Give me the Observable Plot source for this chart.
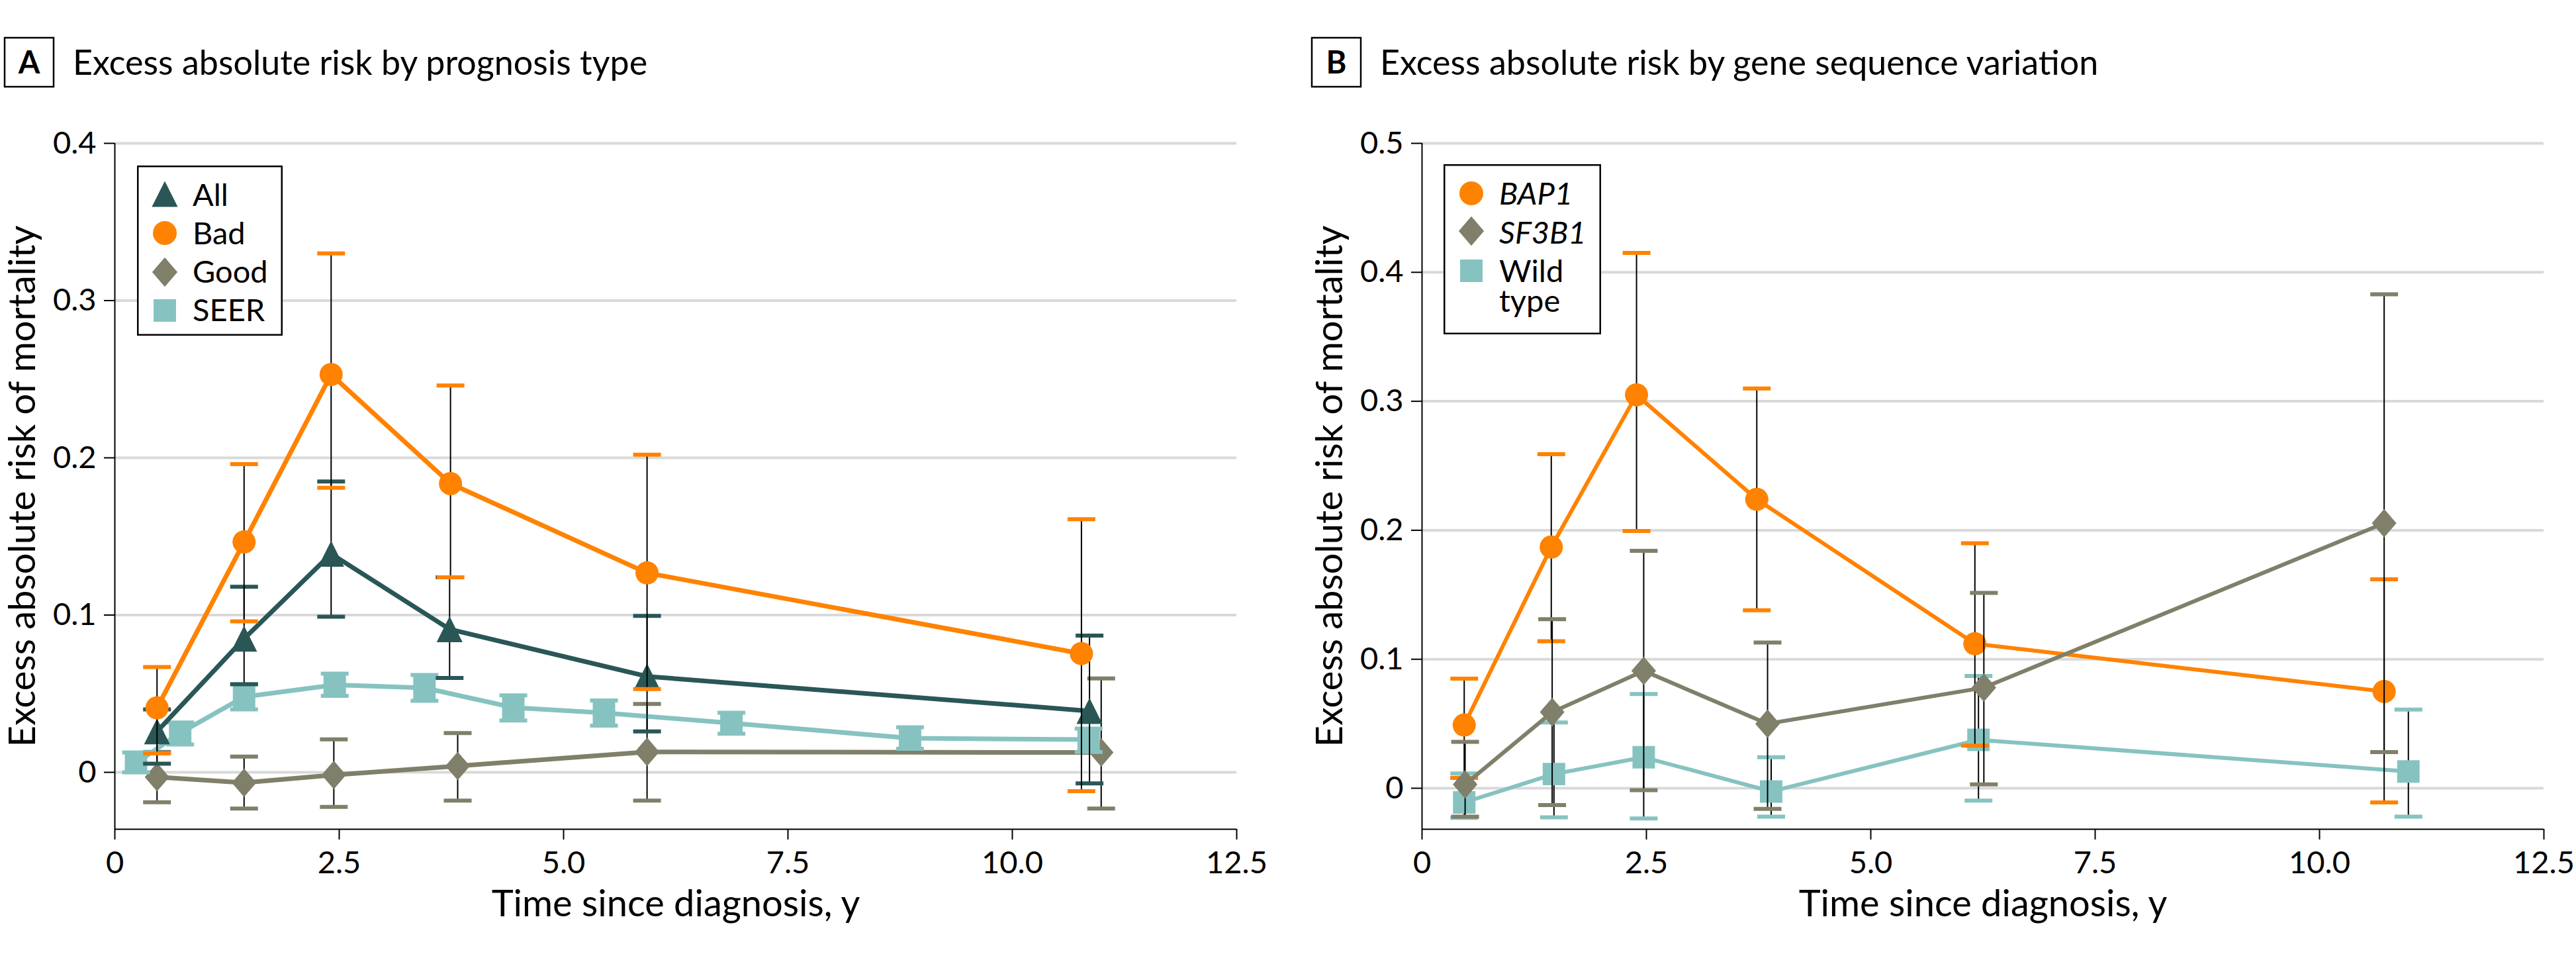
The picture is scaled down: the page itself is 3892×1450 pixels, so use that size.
<!DOCTYPE html>
<html><head><meta charset="utf-8">
<script src="https://cdn.jsdelivr.net/npm/d3@7"></script>
<script src="https://cdn.jsdelivr.net/npm/@observablehq/plot@0.6"></script>
<style>
html,body{margin:0;padding:0;background:#fff;}
body{width:3892px;height:1450px;position:relative;overflow:hidden;font-family:Lato,"Open Sans",sans-serif;color:#000;}
.panel{position:absolute;top:0;height:1450px;}
.panel .chart{position:absolute;left:0;top:150px;}
.panel svg.header{position:absolute;left:0;top:0;}
.panel svg.legend{position:absolute;}
</style></head><body>
<div id="panelA" class="panel" style="left:0;width:1975px"></div>
<div id="panelB" class="panel" style="left:1975px;width:1917px"></div>
<script>
// ---------- DATA ----------
// Panel A: excess absolute risk by prognosis type
const titleA = "Excess absolute risk by prognosis type";
const legendLabelsA = ["All", "Bad", "Good", "SEER"];

const allT  = [0.47, 1.44, 2.41, 3.73, 5.93, 10.86];
const allV  = [0.026, 0.085, 0.139, 0.091, 0.061, 0.039];
const allLo = [0.0055, 0.056, 0.099, 0.060, 0.026, -0.007];
const allHi = [0.040, 0.118, 0.185, 0.124, 0.0995, 0.087];

const badT  = [0.47, 1.44, 2.41, 3.74, 5.93, 10.77];
const badV  = [0.041, 0.1465, 0.253, 0.1836, 0.1268, 0.0755];
const badLo = [0.012, 0.096, 0.181, 0.124, 0.053, -0.012];
const badHi = [0.067, 0.196, 0.330, 0.246, 0.202, 0.161];

const goodT  = [0.47, 1.44, 2.44, 3.82, 5.93, 10.99];
const goodV  = [-0.003, -0.0066, -0.0017, 0.004, 0.013, 0.0126];
const goodLo = [-0.019, -0.023, -0.022, -0.018, -0.018, -0.023];
const goodHi = [0.013, 0.010, 0.021, 0.025, 0.0435, 0.0597];

const seerT  = [0.236, 0.728, 1.44, 2.45, 3.45, 4.44, 5.45, 6.87, 8.86, 10.85];
const seerV  = [0.006, 0.025, 0.048, 0.0556, 0.0537, 0.0412, 0.0378, 0.0313, 0.0217, 0.0208];
const seerLo = [0.0, 0.0177, 0.040, 0.0486, 0.0455, 0.033, 0.0297, 0.0245, 0.015, 0.013];
const seerHi = [0.0126, 0.0317, 0.056, 0.0627, 0.0619, 0.049, 0.0457, 0.0379, 0.0286, 0.0278];

// Panel B: excess absolute risk by gene sequence variation
const titleB = "Excess absolute risk by gene sequence variation";
const legendLabelsB = ["BAP1", "SF3B1", "Wild type"];

const bap1T  = [0.47, 1.44, 2.39, 3.73, 6.16, 10.72];
const bap1V  = [0.049, 0.187, 0.305, 0.224, 0.112, 0.075];
const bap1Lo = [0.008, 0.114, 0.1995, 0.138, 0.033, -0.011];
const bap1Hi = [0.085, 0.259, 0.415, 0.310, 0.190, 0.162];

const sf3b1T  = [0.48, 1.45, 2.47, 3.85, 6.26, 10.72];
const sf3b1V  = [0.003, 0.059, 0.091, 0.050, 0.078, 0.2055];
const sf3b1Lo = [-0.022, -0.013, -0.0015, -0.016, 0.003, 0.028];
const sf3b1Hi = [0.036, 0.131, 0.184, 0.113, 0.1515, 0.383];

const wildT  = [0.47, 1.47, 2.47, 3.89, 6.20, 10.99];
const wildV  = [-0.011, 0.011, 0.024, -0.0025, 0.0375, 0.013];
const wildLo = [-0.023, -0.0226, -0.0234, -0.022, -0.0096, -0.022];
const wildHi = [0.0114, 0.051, 0.073, 0.024, 0.087, 0.061];

// axes
const xTicks = [0, 2.5, 5, 7.5, 10, 12.5];
const yTicksA = [0, 0.1, 0.2, 0.3, 0.4];
const yTicksB = [0, 0.1, 0.2, 0.3, 0.4, 0.5];
const xLabel = "Time since diagnosis, y";
const yLabel = "Excess absolute risk of mortality";

// ---------- STYLE ----------
const cAll = "#2a5656", cBad = "#ff8200", cGood = "#807f69", cSeer = "#86c3c0";
const FONT = "Lato, 'Open Sans', sans-serif";

// custom symbols (size = PI r^2 as used by Plot)
const rad = size => Math.sqrt(size / Math.PI);
const symCircle = {draw(ctx, size){ const r = rad(size); ctx.moveTo(r,0); ctx.arc(0,0,r,0,2*Math.PI); }};
const symTriangle = {draw(ctx, size){ const h = rad(size)*1.12; ctx.moveTo(0,-h); ctx.lineTo(h,h); ctx.lineTo(-h,h); ctx.closePath(); }};
const symDiamond = {draw(ctx, size){ const r = rad(size), w = r*1.06, h = r*1.23; ctx.moveTo(0,-h); ctx.lineTo(w,0); ctx.lineTo(0,h); ctx.lineTo(-w,0); ctx.closePath(); }};
const symSquare = {draw(ctx, size){ const s = rad(size)*0.97; ctx.rect(-s,-s,2*s,2*s); }};
const symCap = {draw(ctx, size){ const w = rad(size)*1.2; ctx.moveTo(-w,0); ctx.lineTo(w,0); }};

const rows = (T, V, L, H) => T.map((t, i) => ({t, v: V[i], lo: L[i], hi: H[i]}));
const fmt = d => d === 0 ? "0" : d.toFixed(1);

function seriesMarks(s, lw) {
  const d = rows(s.T, s.V, s.L, s.H);
  return [
    Plot.line(d, {x: "t", y: "v", stroke: s.color, strokeWidth: lw, strokeLinejoin: "round"}),
    Plot.ruleX(d, {x: "t", y1: "lo", y2: "hi", stroke: "#000", strokeWidth: 2}),
    Plot.dot(d, {x: "t", y: "hi", symbol: symCap, r: 17.5, fill: "none", stroke: s.color, strokeWidth: 6}),
    Plot.dot(d, {x: "t", y: "lo", symbol: symCap, r: 17.5, fill: "none", stroke: s.color, strokeWidth: 6}),
    Plot.dot(d, {x: "t", y: "v", symbol: s.symbol, r: 17.5, fill: s.color, stroke: "none"})
  ];
}

function chart(width, marginRight, yMin, yMax, yTicks, series, lw) {
  return Plot.plot({
    width, height: 1300,
    marginLeft: 173, marginRight, marginTop: 66, marginBottom: 198,
    style: {fontFamily: FONT, fontSize: "47px", color: "#000", background: "#fff", overflow: "visible"},
    x: {domain: [0, 12.5], label: null},
    y: {domain: [yMin, yMax], label: null},
    marks: [
      Plot.gridY({ticks: yTicks, stroke: "#d9d9d9", strokeOpacity: 1, strokeWidth: 4}),
      Plot.ruleX([0], {stroke: "#000", strokeWidth: 2}),
      Plot.ruleY([yMin], {stroke: "#000", strokeWidth: 2}),
      Plot.axisY({ticks: yTicks, tickSize: 16, tickPadding: 12, tickFormat: fmt, strokeWidth: 2, label: null, fontSize: 47}),
      Plot.axisX({ticks: xTicks, tickSize: 16, tickPadding: 17, tickFormat: fmt, strokeWidth: 2, label: null, fontSize: 47}),
      Plot.text([xLabel], {text: d => d, frameAnchor: "bottom", lineAnchor: "middle", textAnchor: "middle", dy: 114, fontSize: 56}),
      Plot.text([yLabel], {text: d => d, frameAnchor: "left", lineAnchor: "middle", textAnchor: "middle", dx: -138, rotate: -90, fontSize: 56}),
      ...series.flatMap(s => seriesMarks(s, lw))
    ]
  });
}

function header(panel, width, letter, title) {
  const svg = d3.select(panel).append("svg").attr("class", "header")
    .attr("width", width).attr("height", 150).style("font-family", FONT);
  svg.append("rect").attr("x", 7).attr("y", 57).attr("width", 74).attr("height", 74)
    .attr("fill", "none").attr("stroke", "#000").attr("stroke-width", 2.5);
  svg.append("text").attr("x", 44).attr("y", 111).attr("text-anchor", "middle")
    .attr("font-weight", "bold").attr("font-size", 47).text(letter);
  svg.append("text").attr("x", 110).attr("y", 113).attr("font-size", 52).text(title);
}

function legend(panel, left, top, w, h, items) {
  const svg = d3.select(panel).append("svg").attr("class", "legend")
    .style("left", left + "px").style("top", top + "px")
    .attr("width", w).attr("height", h).style("font-family", FONT);
  svg.append("rect").attr("x", 1.25).attr("y", 1.25).attr("width", w - 2.5).attr("height", h - 2.5)
    .attr("fill", "#fff").attr("stroke", "#000").attr("stroke-width", 2.5);
  for (const it of items) {
    svg.append("path").attr("transform", `translate(42,${it.cy})`)
      .attr("d", d3.symbol(it.symbol, Math.PI * it.r * it.r)()).attr("fill", it.color);
    const t = svg.append("text").attr("x", 84).attr("y", it.base).attr("font-size", 47)
      .attr("font-style", it.italic ? "italic" : null);
    it.lines.forEach((ln, k) => t.append("tspan").attr("x", 84).attr("dy", k ? 45 : 0).text(ln));
  }
}

// ---------- PANEL A ----------
const seriesA = [
  {T: goodT, V: goodV, L: goodLo, H: goodHi, color: cGood, symbol: symDiamond},
  {T: seerT, V: seerV, L: seerLo, H: seerHi, color: cSeer, symbol: symSquare},
  {T: allT, V: allV, L: allLo, H: allHi, color: cAll, symbol: symTriangle},
  {T: badT, V: badV, L: badLo, H: badHi, color: cBad, symbol: symCircle}
];
const pA = document.getElementById("panelA");
header(pA, 1975, "A", titleA);
const chA = chart(1975, 107, -0.0362, 0.4, yTicksA, seriesA, 7);
chA.classList.add("chart"); pA.appendChild(chA);
legend(pA, 207, 250, 220, 257, [
  {lines: [legendLabelsA[0]], symbol: symTriangle, r: 17.5, color: cAll, cy: 43, base: 61},
  {lines: [legendLabelsA[1]], symbol: symCircle, r: 18, color: cBad, cy: 102, base: 119},
  {lines: [legendLabelsA[2]], symbol: symDiamond, r: 18, color: cGood, cy: 161, base: 177},
  {lines: [legendLabelsA[3]], symbol: symSquare, r: 17.5, color: cSeer, cy: 219, base: 235}
]);

// ---------- PANEL B ----------
const seriesB = [
  {T: wildT, V: wildV, L: wildLo, H: wildHi, color: cSeer, symbol: symSquare},
  {T: bap1T, V: bap1V, L: bap1Lo, H: bap1Hi, color: cBad, symbol: symCircle},
  {T: sf3b1T, V: sf3b1V, L: sf3b1Lo, H: sf3b1Hi, color: cGood, symbol: symDiamond}
];
const pB = document.getElementById("panelB");
header(pB, 1917, "B", titleB);
const chB = chart(1917, 49, -0.0318, 0.5, yTicksB, seriesB, 6);
chB.classList.add("chart"); pB.appendChild(chB);
legend(pB, 206, 248, 238, 257, [
  {lines: [legendLabelsB[0]], italic: true, symbol: symCircle, r: 18, color: cBad, cy: 44, base: 61},
  {lines: [legendLabelsB[1]], italic: true, symbol: symDiamond, r: 18, color: cGood, cy: 101, base: 120},
  {lines: legendLabelsB[2].split(" "), symbol: symSquare, r: 17.5, color: cSeer, cy: 161, base: 178}
]);
</script>
</body></html>
